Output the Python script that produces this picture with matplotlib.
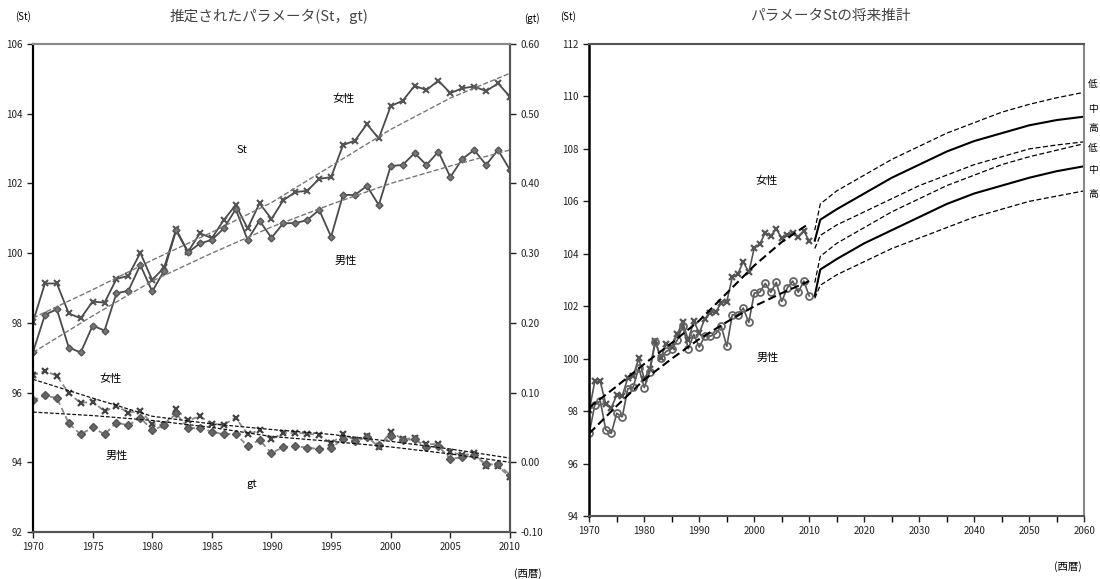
import numpy as np
import matplotlib.pyplot as plt
from matplotlib.ticker import MultipleLocator, FormatStrFormatter

plt.rcParams['font.family'] = ['Noto Sans CJK JP', 'DejaVu Sans']

# estimated parameters 1970-2010
years = np.arange(1970, 2011)

st_female = [98.03, 99.13, 99.13, 98.27, 98.13, 98.61, 98.58, 99.26, 99.35, 100.01,
             99.23, 99.59, 100.68, 100.04, 100.57, 100.43, 100.95, 101.38, 100.71, 101.43,
             100.98, 101.52, 101.75, 101.79, 102.13, 102.18, 103.10, 103.23, 103.70, 103.29,
             104.22, 104.37, 104.80, 104.68, 104.95, 104.59, 104.73, 104.78, 104.65, 104.87,
             104.49]
st_male = [97.16, 98.23, 98.39, 97.29, 97.15, 97.92, 97.78, 98.85, 98.92, 99.66,
           98.90, 99.50, 100.65, 100.02, 100.28, 100.38, 100.71, 101.26, 100.38, 100.93,
           100.44, 100.86, 100.86, 100.95, 101.24, 100.47, 101.67, 101.67, 101.93, 101.38,
           102.50, 102.53, 102.87, 102.53, 102.91, 102.18, 102.70, 102.96, 102.53, 102.96,
           102.39]

gt_female = [0.125, 0.131, 0.124, 0.099, 0.085, 0.087, 0.073, 0.081, 0.071, 0.074,
             0.055, 0.053, 0.076, 0.060, 0.066, 0.055, 0.054, 0.064, 0.040, 0.046,
             0.033, 0.042, 0.042, 0.041, 0.039, 0.027, 0.040, 0.032, 0.037, 0.022,
             0.044, 0.033, 0.035, 0.026, 0.026, 0.015, 0.010, 0.013, -0.005, -0.006,
             -0.021]
gt_male = [0.089, 0.096, 0.092, 0.056, 0.040, 0.050, 0.040, 0.057, 0.053, 0.064,
           0.046, 0.053, 0.070, 0.049, 0.049, 0.044, 0.040, 0.041, 0.023, 0.032,
           0.013, 0.022, 0.023, 0.021, 0.019, 0.020, 0.034, 0.030, 0.036, 0.025,
           0.037, 0.032, 0.033, 0.022, 0.023, 0.005, 0.007, 0.010, -0.003, -0.003,
           -0.018]

# trend curves
trend_years = [1970, 1975, 1980, 1985, 1990, 1995, 2000, 2005, 2010]
st_female_trend = [98.14, 98.95, 99.80, 100.60, 101.45, 102.50, 103.55, 104.45, 105.16]
st_male_trend = [97.15, 98.20, 99.20, 100.00, 100.75, 101.40, 102.00, 102.50, 102.96]
gt_female_trend = [0.119, 0.092, 0.066, 0.055, 0.047, 0.040, 0.030, 0.019, 0.006]
gt_male_trend = [0.072, 0.067, 0.060, 0.050, 0.037, 0.030, 0.022, 0.012, 0.000]

# future projection of St (low / mid / high)
proj_years = [2011, 2012, 2015, 2020, 2025, 2030, 2035, 2040, 2045, 2050, 2055, 2060]
f_low = [104.90, 105.90, 106.40, 107.00, 107.60, 108.10, 108.60, 109.00, 109.40, 109.70, 109.95, 110.16]
f_mid = [104.50, 105.30, 105.70, 106.30, 106.90, 107.40, 107.90, 108.30, 108.60, 108.90, 109.10, 109.23]
f_high = [104.20, 104.70, 105.10, 105.60, 106.10, 106.60, 107.00, 107.40, 107.70, 108.00, 108.15, 108.27]
m_low = [102.90, 103.90, 104.40, 105.00, 105.60, 106.10, 106.60, 107.00, 107.40, 107.70, 107.95, 108.20]
m_mid = [102.40, 103.40, 103.80, 104.40, 104.90, 105.40, 105.90, 106.30, 106.60, 106.90, 107.15, 107.34]
m_high = [102.30, 102.80, 103.20, 103.70, 104.20, 104.60, 105.00, 105.40, 105.70, 106.00, 106.20, 106.40]

line_col = '#4a4a4a'
tick_kw = dict(labelsize=7, length=4, width=1, direction='out', colors='#222222')

fig = plt.figure(figsize=(11, 5.79), dpi=100)

# ---- left: estimated St and gt ----
ax1 = fig.add_axes([0.030, 0.0812, 0.4336, 0.8428])
ax1g = ax1.twinx()

ax1.plot(years, st_female, '-', color=line_col, lw=1.3, marker='x', ms=4, mew=1.5,
         mec='#555555')
ax1.plot(years, st_male, '-', color=line_col, lw=1.3, marker='D', ms=3.5,
         mfc='#777777', mec='#555555')
ax1.plot(trend_years, st_female_trend, '--', color='#777777', lw=1.0)
ax1.plot(trend_years, st_male_trend, '--', color='#777777', lw=1.0)

ax1g.plot(years, gt_female, '--', color='#888888', lw=1.3, marker='x', ms=4, mew=1.6,
          mec='#444444', dashes=(3, 2))
ax1g.plot(years, gt_male, '--', color='#888888', lw=1.3, marker='D', ms=4,
          mfc='#666666', mec='#555555', dashes=(3, 2))
ax1g.plot(trend_years, gt_female_trend, '--', color='#111111', lw=0.9, dashes=(3, 1.5))
ax1g.plot(trend_years, gt_male_trend, '--', color='#111111', lw=0.9, dashes=(3, 1.5))

ax1.set_xlim(1970, 2010)
ax1.set_ylim(92, 106)
ax1.xaxis.set_major_locator(MultipleLocator(5))
ax1.yaxis.set_major_locator(MultipleLocator(2))
ax1g.set_ylim(-0.10, 0.60)
ax1g.yaxis.set_major_locator(MultipleLocator(0.1))
ax1g.yaxis.set_major_formatter(FormatStrFormatter('%.2f'))
ax1.tick_params(**tick_kw)
ax1g.tick_params(**tick_kw)

for a in (ax1, ax1g):
    a.spines['top'].set_color('#888888')
    a.spines['top'].set_linewidth(1.5)
    a.spines['left'].set_linewidth(1.5)
    a.spines['right'].set_color('#555555')
    a.spines['right'].set_linewidth(1.5)
    a.spines['bottom'].set_color('#555555')
    a.spines['bottom'].set_linewidth(1.5)

ax1.text(1996.0, 104.42, '女性', fontsize=8, ha='center', va='center')
ax1.text(1987.5, 102.96, 'St', fontsize=8, ha='center', va='center')
ax1.text(1996.2, 99.78, '男性', fontsize=8, ha='center', va='center')
ax1.text(1976.5, 96.39, '女性', fontsize=8, ha='center', va='center')
ax1.text(1977.0, 94.18, '男性', fontsize=8, ha='center', va='center')
ax1.text(1988.3, 93.38, 'gt', fontsize=8, ha='center', va='center')

fig.text(0.245, 0.972, '推定されたパラメータ(St，gt)', fontsize=10.5, color='#444444',
         ha='center', va='center')
fig.text(0.021, 0.972, '(St)', fontsize=7, ha='center', va='center')
fig.text(0.484, 0.968, '(gt)', fontsize=7, ha='center', va='center')
fig.text(0.480, 0.009, '(西暦)', fontsize=7.5, ha='center', va='center')

# ---- right: future projection of St ----
ax2 = fig.add_axes([0.5357, 0.1088, 0.4500, 0.8152])

ax2.plot(years, st_female, '-', color='#555555', lw=1.2, marker='x', ms=5, mew=1.6,
         mec='#555555')
ax2.plot(years, st_male, '-', color='#555555', lw=1.2, marker='o', ms=5, mfc='none',
         mec='#666666', mew=1.3)
ax2.plot(trend_years, st_female_trend, '--', color='black', lw=1.5, dashes=(4, 2))
ax2.plot(trend_years, st_male_trend, '--', color='black', lw=1.5, dashes=(4, 2))

for series, style in ((f_low, '--'), (f_mid, '-'), (f_high, '--'),
                      (m_low, '--'), (m_mid, '-'), (m_high, '--')):
    if style == '-':
        ax2.plot(proj_years, series, '-', color='black', lw=1.5)
    else:
        ax2.plot(proj_years, series, '--', color='black', lw=0.9, dashes=(4, 2))

ax2.set_xlim(1970, 2060)
ax2.set_ylim(94, 112)
ax2.xaxis.set_major_locator(MultipleLocator(10))
ax2.xaxis.set_minor_locator(MultipleLocator(5))
ax2.yaxis.set_major_locator(MultipleLocator(2))
ax2.tick_params(**tick_kw)
ax2.tick_params(which='minor', length=4, width=1, direction='out')
ax2.spines['top'].set_color('#555555')
ax2.spines['top'].set_linewidth(1.5)
ax2.spines['right'].set_color('#888888')
ax2.spines['right'].set_linewidth(1.5)
ax2.spines['left'].set_linewidth(1.8)
ax2.spines['bottom'].set_color('#555555')
ax2.spines['bottom'].set_linewidth(1.5)

ax2.text(2002.3, 106.77, '女性', fontsize=8, ha='center', va='center')
ax2.text(2002.5, 100.02, '男性', fontsize=8, ha='center', va='center')
for lab, yv in (('低', 110.47), ('中', 109.52), ('高', 108.79),
                ('低', 108.03), ('中', 107.19), ('高', 106.27)):
    ax2.text(1.018, yv, lab, fontsize=7, ha='center', va='center',
             transform=ax2.get_yaxis_transform())

fig.text(0.755, 0.972, 'パラメータStの将来推計', fontsize=10.5, color='#444444',
         ha='center', va='center')
fig.text(0.516, 0.972, '(St)', fontsize=7, ha='center', va='center')
fig.text(0.971, 0.022, '(西暦)', fontsize=7.5, ha='center', va='center')

fig.savefig('out.png', dpi=100)
